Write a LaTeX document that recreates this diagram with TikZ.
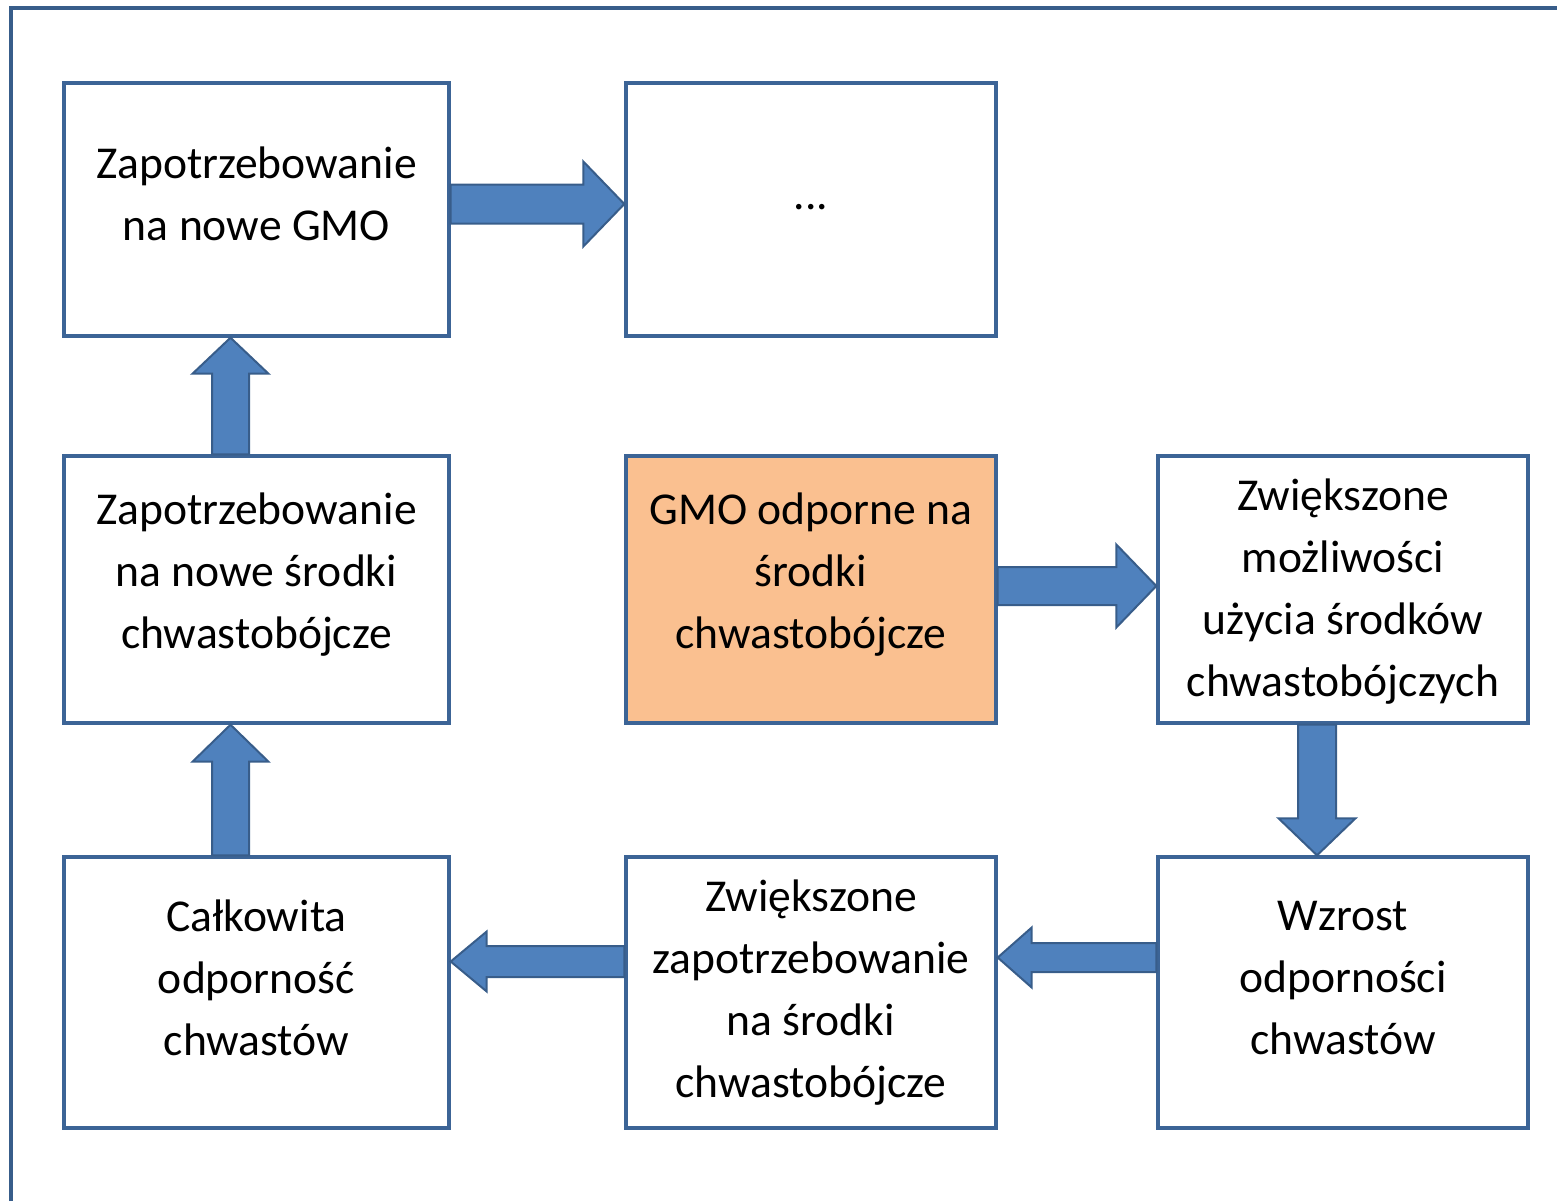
\documentclass[tikz,border=0pt]{standalone}
\usepackage{fontspec}
\setmainfont{Carlito}
\usetikzlibrary{calc}

\definecolor{arrowfill}{RGB}{79,129,189}
\definecolor{arrowline}{RGB}{56,93,138}
\definecolor{boxline}{RGB}{60,100,150}
\definecolor{gmofill}{RGB}{250,192,144}

% block arrow: start, tip, shaft half width, head half width, head length
\newcommand{\blockarrow}[5]{%
	\coordinate (ba-s) at (#1);
	\coordinate (ba-e) at (#2);
	\coordinate (ba-h) at ($(ba-e)!#5!(ba-s)$);
	\filldraw[arrow shape]
		($(ba-s)!#3!90:(ba-e)$) -- ($(ba-h)!#3!90:(ba-e)$) --
		($(ba-h)!#4!90:(ba-e)$) -- (ba-e) --
		($(ba-h)!#4!-90:(ba-e)$) -- ($(ba-h)!#3!-90:(ba-e)$) --
		($(ba-s)!#3!-90:(ba-e)$) -- cycle;
}

\begin{document}
\begin{tikzpicture}[x=0.5pt, y=-0.5pt]
	
	% Define styles
	\tikzset{
		box/.style={rectangle, draw=boxline, line width=1.7pt, fill=white},
		wide box/.style={box, minimum width=192.5pt},
		narrow box/.style={box, minimum width=185pt},
		txt/.style={align=center, font=\fontsize{22.8}{31}\selectfont},
		arrow shape/.style={fill=arrowfill, draw=arrowline, line width=1pt, line join=miter},
	}
	
	\useasboundingbox (0,0) rectangle (1557,1201);
	
	% Outer frame
	\draw[arrowline, line width=2pt] (11,1201) -- (11,8) -- (1557,8);
	
	% Place boxes
	\node[wide box, minimum height=126.5pt] (gmoDemand) at (256.5,209.5) {};
	\node[narrow box, minimum height=126.5pt] (dots) at (811,209.5) {};
	
	\node[wide box, minimum height=133.5pt] (herbDemand) at (256.5,589.5) {};
	\node[narrow box, minimum height=133.5pt, fill=gmofill] (gmoResist) at (811,589.5) {};
	\node[narrow box, minimum height=133.5pt] (moreUse) at (1343,589.5) {};
	
	\node[wide box, minimum height=135.5pt] (totalResist) at (256.5,992.5) {};
	\node[narrow box, minimum height=135.5pt] (moreDemand) at (811,992.5) {};
	\node[narrow box, minimum height=135.5pt] (resistGrowth) at (1343,992.5) {};
	
	% Texts
	\node[txt] (gmoDemand-t) at ([yshift=7.75pt]gmoDemand) {Zapotrzebowanie\\na nowe GMO};
	\node[txt] (dots-t) at ([yshift=1.25pt]dots) {...};
	\node[txt] (herbDemand-t) at ([yshift=7.25pt]herbDemand) {Zapotrzebowanie\\na nowe środki\\chwastobójcze};
	\node[txt] (gmoResist-t) at ([yshift=7.25pt]gmoResist) {GMO odporne na\\środki\\chwastobójcze};
	\node[txt] (moreUse-t) at ([yshift=-1pt]moreUse) {Zwiększone\\możliwości\\użycia środków\\chwastobójczych};
	\node[txt] (totalResist-t) at ([yshift=7.25pt]totalResist) {Całkowita\\odporność\\chwastów};
	\node[txt] (moreDemand-t) at (moreDemand) {Zwiększone\\zapotrzebowanie\\na środki\\chwastobójcze};
	\node[txt] (resistGrowth-t) at ([yshift=7.25pt]resistGrowth) {Wzrost\\odporności\\chwastów};
	
	% Block arrows between boxes
	\blockarrow{[yshift=2.75pt]gmoDemand.east}{[yshift=2.75pt]dots.west}{9.75pt}{21.25pt}{20.5pt}
	\blockarrow{[xshift=-13pt]herbDemand.north}{[xshift=-13pt]gmoDemand.south}{9.25pt}{19pt}{18pt}
	\blockarrow{[xshift=-13pt]totalResist.north}{[xshift=-13pt]herbDemand.south}{9.25pt}{19pt}{18.5pt}
	\blockarrow{[yshift=1.75pt]gmoResist.east}{[yshift=1.75pt]moreUse.west}{9.5pt}{20.75pt}{20pt}
	\blockarrow{[xshift=-13pt]moreUse.south}{[xshift=-13pt]resistGrowth.north}{9.5pt}{19.25pt}{18.5pt}
	\blockarrow{[yshift=17.5pt]resistGrowth.west}{[yshift=17.5pt]moreDemand.east}{7.25pt}{15pt}{17pt}
	\blockarrow{[yshift=15.5pt]moreDemand.west}{[yshift=15.5pt]totalResist.east}{7.75pt}{15pt}{18pt}
	
\end{tikzpicture}
\end{document}
